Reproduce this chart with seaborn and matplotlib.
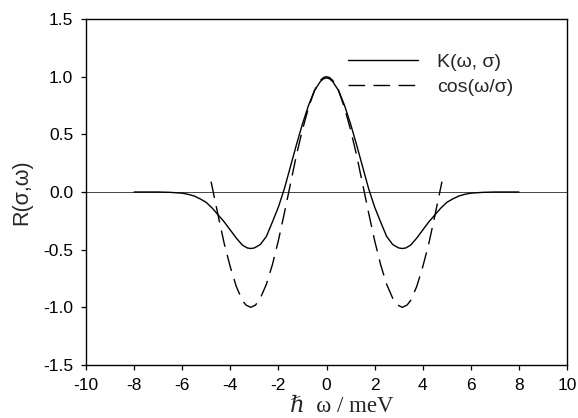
import matplotlib
matplotlib.use("Agg")
import matplotlib.pyplot as plt
import seaborn as sns
import pandas as pd

# values
omega_k = [-8, -7, -6.5, -6, -5.75, -5.5, -5.25, -5, -4.75, -4.5, -4.25, -4, -3.75,
           -3.5, -3.3, -3.15, -3, -2.75, -2.5, -2.25, -2, -1.75, -1.5, -1.25, -1, -0.75,
           -0.5, -0.25, -0.12, 0, 0.12, 0.25, 0.5, 0.75, 1, 1.25, 1.5, 1.75, 2, 2.25, 2.5, 2.75,
           3, 3.15, 3.3, 3.5, 3.75, 4, 4.25, 4.5, 4.75, 5, 5.25, 5.5, 5.75, 6, 6.5, 7, 8]
k_vals = [0.0, 0.0, -0.003, -0.01, -0.02, -0.035, -0.06, -0.09, -0.14, -0.20, -0.26, -0.33, -0.40,
          -0.46, -0.485, -0.49, -0.485, -0.455, -0.385, -0.26, -0.13, 0.03, 0.22, 0.41, 0.59, 0.75,
          0.88, 0.96, 0.982, 0.99, 0.982, 0.96, 0.88, 0.75, 0.59, 0.41, 0.22, 0.03, -0.13, -0.26, -0.385, -0.455,
          -0.485, -0.49, -0.485, -0.46, -0.40, -0.33, -0.26, -0.20, -0.14, -0.09, -0.06, -0.035, -0.02,
          -0.01, -0.003, 0.0, 0.0]

omega_cos = [-4.8, -4.5, -4.25, -4, -3.75, -3.5, -3.35, -3.15, -2.95, -2.75, -2.5, -2.25, -2,
             -1.75, -1.5, -1.25, -1, -0.75, -0.5, -0.25, -0.12, 0, 0.12, 0.25, 0.5, 0.75, 1, 1.25, 1.5,
             1.75, 2, 2.25, 2.5, 2.75, 2.95, 3.15, 3.35, 3.5, 3.75, 4, 4.25, 4.5, 4.8]
cos_vals = [0.09, -0.21, -0.45, -0.65, -0.82, -0.94, -0.98, -1.0, -0.98, -0.92, -0.80, -0.63, -0.42,
            -0.18, 0.07, 0.32, 0.54, 0.73, 0.88, 0.97, 0.993, 1.0, 0.993, 0.97, 0.88, 0.73, 0.54, 0.32, 0.07,
            -0.18, -0.42, -0.63, -0.80, -0.92, -0.98, -1.0, -0.98, -0.94, -0.82, -0.65, -0.45, -0.21, 0.09]

x_ticks = [-10, -8, -6, -4, -2, 0, 2, 4, 6, 8, 10]
y_ticks = [-1.5, -1.0, -0.5, 0.0, 0.5, 1.0, 1.5]

sns.set_style("ticks")
plt.rcParams['font.family'] = ['Liberation Sans', 'DejaVu Sans']

df_k = pd.DataFrame({'omega': omega_k, 'R': k_vals})
df_cos = pd.DataFrame({'omega': omega_cos, 'R': cos_vals})

fig, ax = plt.subplots(figsize=(5.78, 4.18), dpi=100)
fig.subplots_adjust(left=0.1488, right=0.981, top=0.9545, bottom=0.1268)

ax.axhline(0, color='#444444', lw=0.7, zorder=1)
sns.lineplot(data=df_k, x='omega', y='R', ax=ax, color='black', lw=1.0,
             label='K(\u03c9, \u03c3)')
sns.lineplot(data=df_cos, x='omega', y='R', ax=ax, color='black', lw=1.0,
             linestyle=(0, (12, 6)), label='cos(\u03c9/\u03c3)')

ax.set_xlim(-10, 10)
ax.set_ylim(-1.5, 1.5)
ax.set_xticks(x_ticks)
ax.set_yticks(y_ticks)
ax.set_xticklabels([str(t) for t in x_ticks])
ax.set_yticklabels([f"{t:.1f}" for t in y_ticks])
ax.tick_params(direction='out', length=3.6, width=0.9, labelsize=12.5, pad=5.5,
               colors='black')

for side in ['top', 'right', 'left', 'bottom']:
    ax.spines[side].set_visible(True)
    ax.spines[side].set_linewidth(1.0)
    ax.spines[side].set_color('black')

ax.set_xlabel('\u210f  \u03c9 / meV', fontsize=16.5, family=['Liberation Serif', 'DejaVu Serif'])
ax.xaxis.label.set_va('baseline')
ax.xaxis.set_label_coords(0.531, -0.136)
ax.set_ylabel('R(\u03c3,\u03c9)', fontsize=15.5)
ax.yaxis.label.set_va('center')
ax.yaxis.set_label_coords(-0.133, 0.5)

ax.legend(loc='upper left', bbox_to_anchor=(0.602, 0.872), bbox_transform=fig.transFigure,
          frameon=False, fontsize=14, handlelength=3.6, handletextpad=1.0,
          borderpad=0, borderaxespad=0, labelspacing=0.35)

plt.savefig('out.png', dpi=100)
plt.close()
